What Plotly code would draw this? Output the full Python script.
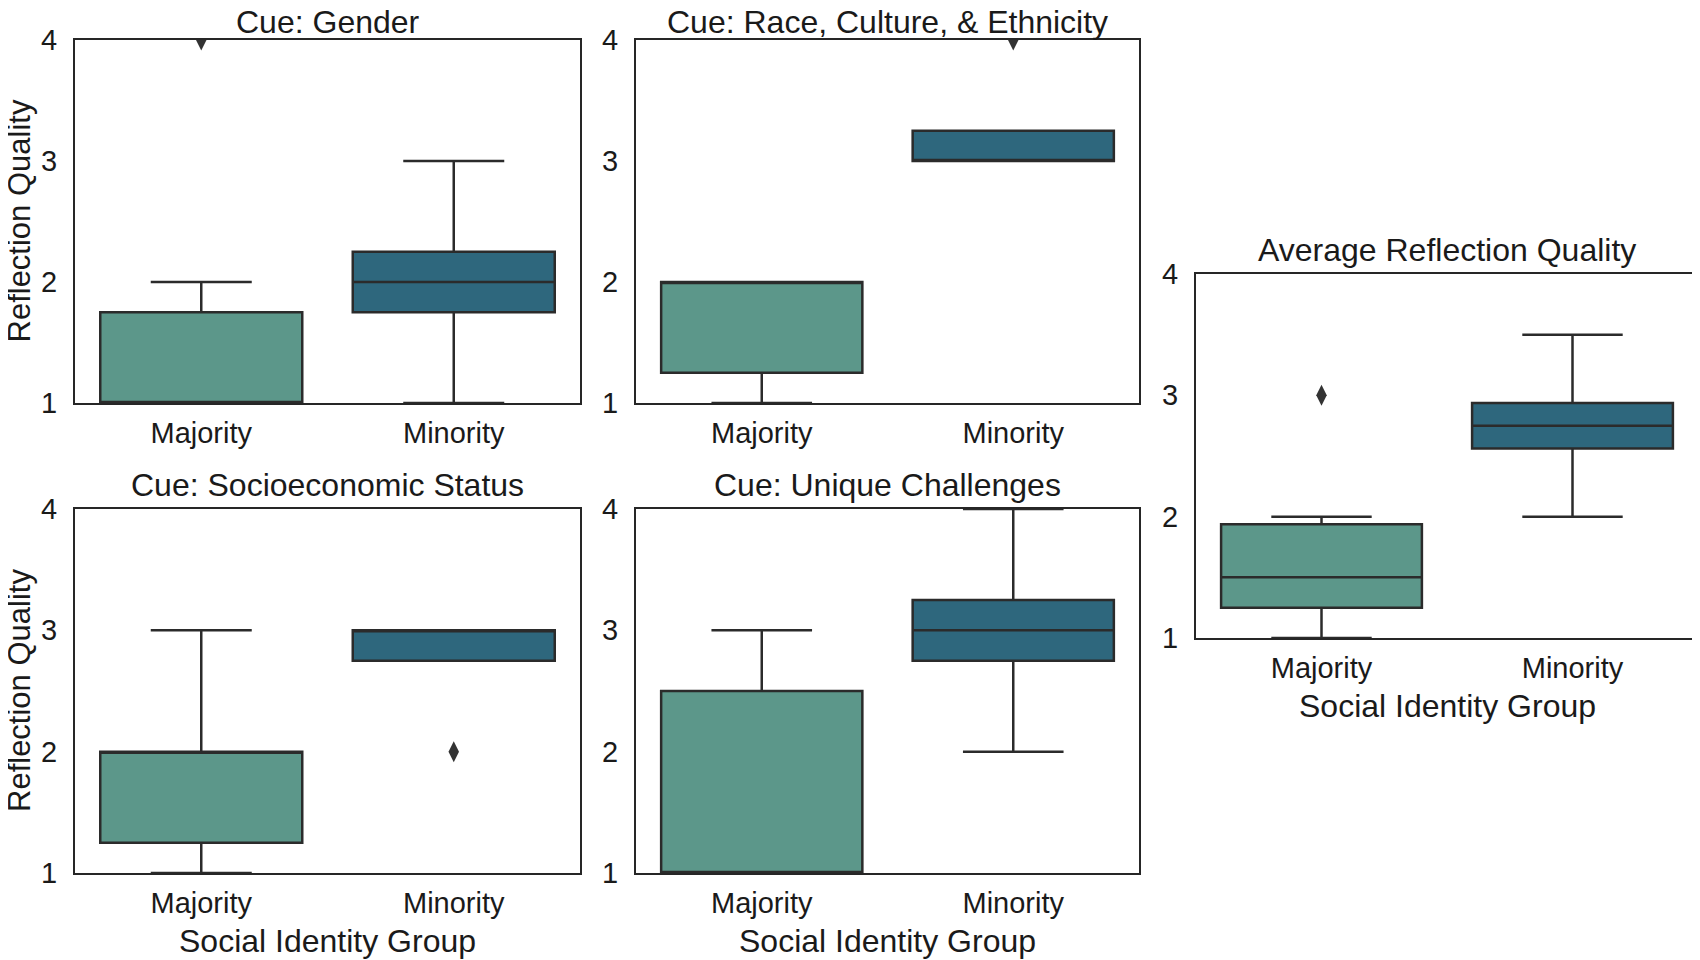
import plotly.graph_objects as go

# values (five panels, two groups each)
groups = ['Majority', 'Minority']
panel_titles = ['Cue: Gender',
                'Cue: Race, Culture, & Ethnicity',
                'Cue: Socioeconomic Status',
                'Cue: Unique Challenges',
                'Average Reflection Quality']
q1 = [[1, 1.75], [1.25, 3], [1.25, 2.75], [1, 2.75], [1.25, 2.5625]]
median = [[1, 2], [2, 3], [2, 3], [1, 3], [1.5, 2.75]]
q3 = [[1.75, 2.25], [2, 3.25], [2, 3], [2.5, 3.25], [1.9375, 2.9375]]
lower = [[1, 1], [1, 3], [1, 2.75], [1, 2], [1, 2]]
upper = [[2, 3], [2, 3.25], [3, 3], [3, 4], [2, 3.5]]
outlier_group = [['Majority'], ['Minority'], ['Minority'], [], ['Majority']]
outlier_value = [[4], [4], [2], [], [3]]
y_ticks = [1, 2, 3, 4]

colors = ['#5c978a', '#2e677d']
edge = '#2b2b2b'
font = 'Liberation Sans, Arial, sans-serif'

# panel boxes in window pixels (x0, x1, y0, y1); the page body adds an 8px offset
W, H = 1700, 960
OFF = 8
boxes = [(75, 580, 40, 403), (636, 1139, 40, 403),
         (75, 580, 509, 873), (636, 1139, 509, 873),
         (1196, 1698, 274, 638)]
dom = [(((a-OFF)/W, (b-OFF)/W), (1-(d-OFF)/H, 1-(c-OFF)/H)) for a, b, c, d in boxes]

fig = go.Figure()
for i in range(5):
    ax = '' if i == 0 else str(i+1)
    for j, g in enumerate(groups):
        fig.add_trace(go.Box(
            x=[g], q1=[q1[i][j]], median=[median[i][j]], q3=[q3[i][j]],
            lowerfence=[lower[i][j]], upperfence=[upper[i][j]],
            width=0.8, whiskerwidth=0.5, boxpoints=False,
            fillcolor=colors[j], line={'color': edge, 'width': 2.5},
            xaxis='x'+ax, yaxis='y'+ax, hoverinfo='skip'))
    if outlier_value[i]:
        fig.add_trace(go.Scatter(
            x=outlier_group[i], y=outlier_value[i], mode='markers',
            marker={'symbol': 'diamond-tall', 'size': 15, 'color': '#333333'},
            xaxis='x'+ax, yaxis='y'+ax, cliponaxis=True, hoverinfo='skip'))

lay = {}
for i in range(5):
    ax = '' if i == 0 else str(i+1)
    lay['xaxis'+ax] = {'domain': dom[i][0], 'anchor': 'y'+ax,
                       'type': 'category', 'categoryorder': 'array',
                       'categoryarray': groups, 'range': [-0.5, 1.5],
                       'showline': True, 'mirror': True,
                       'linecolor': '#262626', 'linewidth': 2,
                       'showgrid': False, 'zeroline': False, 'ticks': '',
                       'automargin': False, 'ticklabelstandoff': 3,
                       'tickfont': {'family': font, 'size': 29, 'color': '#1a1a1a'},
                       'fixedrange': True}
    lay['yaxis'+ax] = {'domain': dom[i][1], 'anchor': 'x'+ax,
                       'range': [1, 4], 'tickvals': y_ticks,
                       'showline': True, 'mirror': True,
                       'linecolor': '#262626', 'linewidth': 2,
                       'showgrid': False, 'zeroline': False, 'ticks': '',
                       'automargin': False, 'ticklabelstandoff': 10,
                       'tickfont': {'family': font, 'size': 29, 'color': '#1a1a1a'},
                       'fixedrange': True}

ann = []
for i in range(5):
    (x0, x1), (y0, y1) = dom[i]
    # top row titles sit lower so they stay inside the page
    ann.append({'text': panel_titles[i], 'x': (x0+x1)/2, 'y': y1,
                'xref': 'paper', 'yref': 'paper', 'showarrow': False,
                'xanchor': 'center', 'yanchor': 'middle',
                'yshift': 18 if i < 2 else 24,
                'font': {'family': font, 'size': 32, 'color': '#1a1a1a'}})
for i in [2, 3, 4]:
    (x0, x1), (y0, y1) = dom[i]
    ann.append({'text': 'Social Identity Group', 'x': (x0+x1)/2, 'y': y0,
                'xref': 'paper', 'yref': 'paper', 'showarrow': False,
                'xanchor': 'center', 'yanchor': 'middle', 'yshift': -68,
                'font': {'family': font, 'size': 32, 'color': '#1a1a1a'}})
for i in [0, 2]:
    (x0, x1), (y0, y1) = dom[i]
    ann.append({'text': 'Reflection Quality', 'x': (19-OFF)/W, 'y': (y0+y1)/2,
                'xref': 'paper', 'yref': 'paper', 'showarrow': False,
                'textangle': -90, 'xanchor': 'center', 'yanchor': 'middle',
                'font': {'family': font, 'size': 31, 'color': '#1a1a1a'}})

fig.update_layout(
    width=W, height=H,
    margin={'l': 0, 'r': 0, 't': 0, 'b': 0, 'autoexpand': False},
    paper_bgcolor='white', plot_bgcolor='white',
    showlegend=False, boxmode='overlay',
    annotations=ann, **lay
)
fig.write_html("out.html")
